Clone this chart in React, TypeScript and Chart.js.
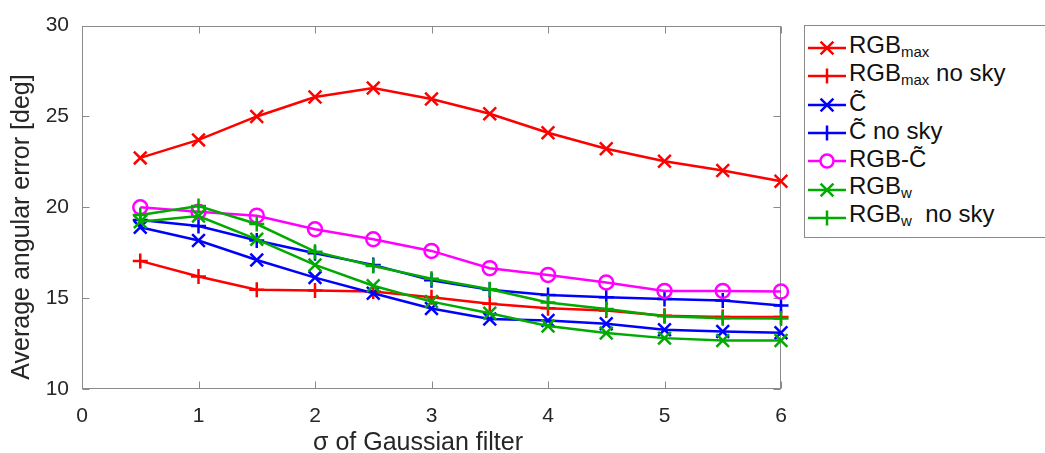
import React, { useEffect, useRef } from "react";
import { Chart, registerables } from "chart.js";

Chart.register(...registerables);

// ---- data ----
const sigma = [0.5, 1, 1.5, 2, 2.5, 3, 3.5, 4, 4.5, 5, 5.5, 6];
const rgbMax = [22.72, 23.71, 25.0, 26.07, 26.56, 25.96, 25.15, 24.1, 23.22, 22.53, 22.02, 21.43];
const rgbMaxNoSky = [17.05, 16.19, 15.46, 15.42, 15.36, 15.05, 14.69, 14.45, 14.32, 14.03, 13.96, 13.96];
const cTilde = [18.9, 18.17, 17.1, 16.13, 15.27, 14.43, 13.85, 13.77, 13.59, 13.26, 13.17, 13.1];
const cTildeNoSky = [19.3, 18.97, 18.17, 17.47, 16.83, 15.98, 15.46, 15.18, 15.05, 14.96, 14.87, 14.6];
const rgbMinusC = [20.0, 19.76, 19.54, 18.79, 18.24, 17.6, 16.65, 16.28, 15.86, 15.4, 15.4, 15.36];
const rgbW = [19.21, 19.52, 18.24, 16.83, 15.68, 14.81, 14.17, 13.47, 13.08, 12.8, 12.67, 12.67];
const rgbWNoSky = [19.58, 20.07, 19.08, 17.56, 16.77, 16.07, 15.49, 14.76, 14.4, 14.0, 13.9, 13.88];

const xTicks = [0, 1, 2, 3, 4, 5, 6];
const yTicks = [10, 15, 20, 25, 30];
const xTitle = "σ of Gaussian filter";
const yTitle = "Average angular error [deg]";

const RED = "#ff0000";
const BLUE = "#0000ff";
const MAGENTA = "#ff00ff";
const GREEN = "#00aa00";

type Series = {
  key: string;
  base: string;
  sub: string;
  rest: string;
  values: number[];
  color: string;
  marker: "crossRot" | "cross" | "circle";
};

const series: Series[] = [
  { key: "RGBmax", base: "RGB", sub: "max", rest: "", values: rgbMax, color: RED, marker: "crossRot" },
  { key: "RGBmax no sky", base: "RGB", sub: "max", rest: " no sky", values: rgbMaxNoSky, color: RED, marker: "cross" },
  { key: "C̃", base: "C\u0303", sub: "", rest: "", values: cTilde, color: BLUE, marker: "crossRot" },
  { key: "C̃ no sky", base: "C\u0303", sub: "", rest: " no sky", values: cTildeNoSky, color: BLUE, marker: "cross" },
  { key: "RGB-C̃", base: "RGB-C\u0303", sub: "", rest: "", values: rgbMinusC, color: MAGENTA, marker: "circle" },
  { key: "RGBw", base: "RGB", sub: "w", rest: "", values: rgbW, color: GREEN, marker: "crossRot" },
  { key: "RGBw  no sky", base: "RGB", sub: "w", rest: "\u00a0 no sky", values: rgbWNoSky, color: GREEN, marker: "cross" },
];

const FONT = '"Liberation Sans", Arial, Helvetica, sans-serif';
const TEXT = "#262626";
const AXIS = "#8a8a8a";

const framePlugin = {
  id: "frame",
  beforeDatasetsDraw(chart: any) {
    const { ctx, chartArea: a, scales } = chart;
    const x = scales.x;
    const y = scales.y;
    ctx.save();
    ctx.strokeStyle = AXIS;
    ctx.lineWidth = 1;
    const L = Math.round(a.left) + 0.5;
    const R = Math.round(a.right) - 0.5;
    const T = Math.round(a.top) + 0.5;
    const B = Math.round(a.bottom) - 0.5;
    ctx.strokeRect(L, T, R - L, B - T);
    const tl = 7;
    ctx.beginPath();
    for (const v of xTicks) {
      const px = Math.round(x.getPixelForValue(v)) + 0.5;
      ctx.moveTo(px, B);
      ctx.lineTo(px, B - tl);
      ctx.moveTo(px, T);
      ctx.lineTo(px, T + tl);
    }
    for (const v of yTicks) {
      const py = Math.round(y.getPixelForValue(v)) + 0.5;
      ctx.moveTo(L, py);
      ctx.lineTo(L + tl, py);
      ctx.moveTo(R, py);
      ctx.lineTo(R - tl, py);
    }
    ctx.stroke();
    ctx.restore();
  },
  afterDraw(chart: any) {
    const { ctx } = chart;
    ctx.save();
    ctx.fillStyle = TEXT;
    ctx.font = `25px ${FONT}`;
    ctx.textAlign = "center";
    ctx.textBaseline = "middle";
    ctx.fillText(xTitle, 418, 443);
    ctx.translate(22, 227);
    ctx.rotate(-Math.PI / 2);
    ctx.fillText(yTitle, 0, 0);
    ctx.restore();
  },
};

function MarkerIcon({ color, marker }: { color: string; marker: Series["marker"] }) {
  const cx = 19;
  const cy = 14;
  let m: React.ReactNode = null;
  if (marker === "crossRot") {
    const d = 6.4;
    m = (
      <path
        d={`M${cx - d} ${cy - d} L${cx + d} ${cy + d} M${cx - d} ${cy + d} L${cx + d} ${cy - d}`}
        stroke={color}
        strokeWidth={2.5}
      />
    );
  } else if (marker === "cross") {
    const d = 7.5;
    m = <path d={`M${cx} ${cy - d} L${cx} ${cy + d}`} stroke={color} strokeWidth={2.5} />;
  } else {
    m = <circle cx={cx} cy={cy} r={6.5} fill="white" stroke={color} strokeWidth={2.5} />;
  }
  return (
    <svg width={38} height={28} style={{ display: "block" }}>
      <line x1={0} y1={cy} x2={38} y2={cy} stroke={color} strokeWidth={2.5} />
      {m}
    </svg>
  );
}

export default function App() {
  const ref = useRef<HTMLCanvasElement | null>(null);

  useEffect(() => {
    if (!ref.current) return;
    const n = series.length;
    const chart = new Chart(ref.current, {
      type: "line",
      data: {
        datasets: series.map((s, i) => ({
          label: s.key,
          data: sigma.map((xv, j) => ({ x: xv, y: s.values[j] })),
          borderColor: s.color,
          backgroundColor: "rgba(0,0,0,0)",
          borderWidth: 2.5,
          pointStyle: s.marker,
          pointRadius: s.marker === "crossRot" ? 9 : s.marker === "cross" ? 7.5 : 7,
          pointBorderWidth: 2.5,
          pointBorderColor: s.color,
          pointBackgroundColor: "rgba(0,0,0,0)",
          tension: 0,
          clip: false as any,
          order: n - 1 - i,
        })),
      },
      options: {
        responsive: false,
        animation: false,
        events: [],
        layout: { padding: { left: 0, top: 25, right: 264, bottom: 0 } },
        plugins: {
          legend: { display: false },
          tooltip: { enabled: false },
          title: { display: false },
        },
        scales: {
          x: {
            type: "linear",
            min: 0,
            max: 6,
            afterBuildTicks: (s: any) => {
              s.ticks = xTicks.map((v) => ({ value: v }));
            },
            afterFit: (s: any) => {
              s.height = 64;
            },
            ticks: {
              color: TEXT,
              font: { family: FONT, size: 21 },
              padding: 15,
              maxRotation: 0,
              autoSkip: false,
            },
            grid: { display: false, drawTicks: false },
            border: { display: false },
          },
          y: {
            type: "linear",
            min: 10,
            max: 30,
            afterBuildTicks: (s: any) => {
              s.ticks = yTicks.map((v) => ({ value: v }));
            },
            afterFit: (s: any) => {
              s.width = 82;
            },
            ticks: {
              color: TEXT,
              font: { family: FONT, size: 21 },
              padding: 13,
            },
            grid: { display: false, drawTicks: false },
            border: { display: false },
          },
        },
      },
      plugins: [framePlugin],
    } as any);
    return () => chart.destroy();
  }, []);

  return (
    <div
      style={{
        position: "fixed",
        left: 0,
        top: 0,
        width: 1045,
        height: 453,
        overflow: "hidden",
        background: "#ffffff",
      }}
    >
      <canvas ref={ref} width={1045} height={453} style={{ position: "absolute", left: 0, top: 0 }} />
      <div
        style={{
          position: "absolute",
          left: 804,
          top: 25,
          width: 270,
          height: 213,
          boxSizing: "border-box",
          border: `1px solid ${AXIS}`,
          background: "#ffffff",
          fontFamily: FONT,
          color: "#111111",
        }}
      >
        {series.map((s, i) => (
          <div
            key={s.key}
            style={{
              position: "absolute",
              left: 3,
              top: 8 + i * 28.3,
              height: 28,
              display: "flex",
              alignItems: "center",
              whiteSpace: "nowrap",
            }}
          >
            <MarkerIcon color={s.color} marker={s.marker} />
            <span style={{ fontSize: 24, lineHeight: "28px", marginLeft: 3, position: "relative", top: -2 }}>
              {s.base}
              {s.sub ? <span style={{ fontSize: 15, position: "relative", top: 4 }}>{s.sub}</span> : null}
              {s.rest}
            </span>
          </div>
        ))}
      </div>
    </div>
  );
}
